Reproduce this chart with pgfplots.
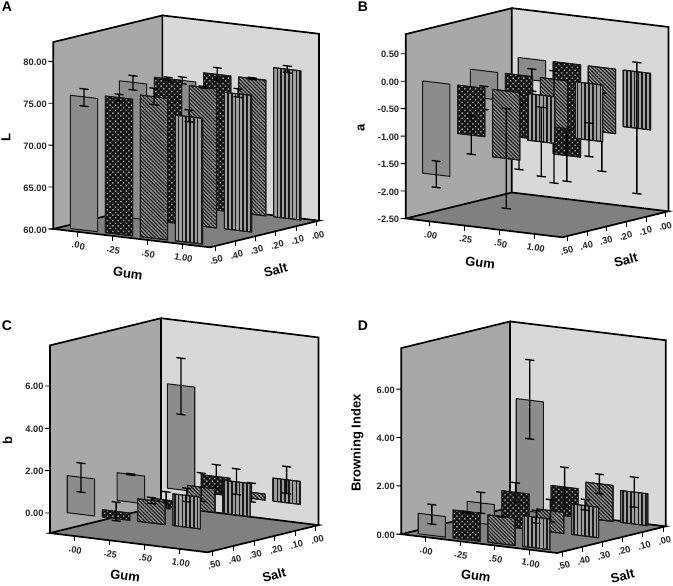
\documentclass[border=0pt]{standalone}
\usepackage{fontspec}
\setmainfont{Liberation Sans}
\usepackage{pgfplots}
\pgfplotsset{compat=1.18}
\usetikzlibrary{patterns.meta}
\definecolor{wallL}{HTML}{A8A8A8}
\definecolor{wallB}{HTML}{D8D8D8}
\definecolor{floorC}{HTML}{808080}
\definecolor{barG}{HTML}{8C8C8C}
\definecolor{barEdge}{HTML}{181818}
\tikzset{
  gbar/.style={draw=barEdge,line width=1.05pt,fill=barG},
  cbar/.style={draw=barEdge,line width=1.05pt,fill=black!92,postaction={pattern={Dots[radius=1.05pt,distance=3.8pt,angle=45]},pattern color=black!42}},
  dbar/.style={draw=barEdge,line width=1.05pt,fill=black!42,postaction={pattern={Lines[angle=-45,distance=2.6pt,line width=1.1pt]},pattern color=black!90}},
  vbar/.style={draw=barEdge,line width=1.05pt,fill=black!38,postaction={pattern={Lines[angle=90,distance=3.8pt,line width=1.5pt]},pattern color=black!90}},
  tickline/.style={black,line width=0.9pt,no marks},
}
% \Bar{gum position}{salt position}{base}{value}{low}{high}{style}
\newcommand\Bar[7]{%
  \pgfmathsetmacro\gl{#1-0.39}\pgfmathsetmacro\gr{#1+0.39}%
  \pgfmathsetmacro\cl{#1-0.13}\pgfmathsetmacro\cr{#1+0.13}%
  \edef\tmpa{\noexpand\addplot3[#7,no marks,line join=round] coordinates {(\gl,#2,#3)(\gr,#2,#3)(\gr,#2,#4)(\gl,#2,#4)(\gl,#2,#3)};}\tmpa
  \edef\tmpb{\noexpand\addplot3[black,line width=1.35pt,no marks,line join=miter] coordinates {(\cl,#2,#6)(\cr,#2,#6)(#1,#2,#6)(#1,#2,#5)(\cl,#2,#5)(\cr,#2,#5)};}\tmpb
}
\newcommand\Walls[2]{%
  \addplot3[draw=none,fill=wallL,no marks] coordinates {(-0.686,-0.25,#1)(-0.686,5.13,#1)(-0.686,5.13,#2)(-0.686,-0.25,#2)};
  \addplot3[draw=none,fill=wallB,no marks] coordinates {(-0.686,5.13,#1)(3.79,5.13,#1)(3.79,5.13,#2)(-0.686,5.13,#2)};
  \addplot3[draw=none,fill=floorC,no marks] coordinates {(-0.686,-0.25,#1)(3.79,-0.25,#1)(3.79,5.13,#1)(-0.686,5.13,#1)};
  \addplot3[black,line width=1.7pt,no marks,line join=miter] coordinates {(-0.686,5.13,#1)(-0.686,-0.25,#1)(3.79,-0.25,#1)(3.79,5.13,#1)(-0.686,5.13,#1)(-0.686,5.13,#2)(-0.686,-0.25,#2)(-0.686,-0.25,#1)};
  \addplot3[black,line width=1.7pt,no marks,line join=miter] coordinates {(-0.686,5.13,#2)(3.79,5.13,#2)(3.79,5.13,#1)};
}
% \Ticks{zmin}{tick length in z units}{z tick values}
\newcommand\Ticks[3]{%
  \pgfmathsetmacro\zb{#1-#2}%
  \pgfplotsforeachungrouped \g in {0,1,2,3}{%
    \edef\tmp{\noexpand\addplot3[tickline] coordinates {(\g,-0.25,#1)(\g,-0.25,\zb)};}\tmp}
  \pgfplotsforeachungrouped \s in {0,1,2,3,4,5}{%
    \edef\tmp{\noexpand\addplot3[tickline] coordinates {(3.79,\s,#1)(3.79,\s,\zb)};}\tmp}
  \pgfplotsforeachungrouped \v in {#3}{%
    \edef\tmp{\noexpand\addplot3[tickline] coordinates {(-0.686,-0.25,\v)(-0.7825,-0.33,\v)};}\tmp}
}
\pgfplotsset{panel/.style={
  clip=false, anchor=south west,
  xmin=-0.686,xmax=3.79,ymin=-0.25,ymax=5.13,
  axis line style={draw=none},
  xtick={0,1,2,3},xticklabels={.00,.25,.50,1.00},
  ytick={0,1,2,3,4,5},yticklabels={.50,.40,.30,.20,.10,.00},
  ztick pos=left,
  tick align=outside,major tick length=0pt,
  tick label style={font=\bfseries\fontsize{9.3}{10}\selectfont,text=black!85},
  x tick label style={rotate=-12,anchor=north,xshift=4pt,yshift=-6.5pt},
  y tick label style={rotate=14,anchor=north west,xshift=-12pt,yshift=-7pt},
  z tick label style={xshift=-3pt,/pgf/number format/fixed,/pgf/number format/fixed zerofill,/pgf/number format/precision=2,/pgf/number format/assume math mode=true},
  label style={font=\bfseries\fontsize{13}{14}\selectfont},
  xlabel=Gum,ylabel=Salt,
  x label style={at={(ticklabel cs:0.5)},anchor=north,rotate=-8,xshift=14pt,yshift=-5pt},
  y label style={at={(ticklabel cs:0.5)},anchor=north,rotate=15,xshift=-10pt,yshift=-7pt},
  z label style={at={(ticklabel cs:0.5)},anchor=south,rotate=0,yshift=6pt},
}}
\begin{document}
\begin{tikzpicture}[x=1pt,y=1pt]
\begin{axis}[panel,at={(53.3pt,338.7pt)},
  x={(35pt,-4.1pt)},y={(20.27pt,4.95pt)},z={(0pt,8.38pt)},
  zmin=60,zmax=82.3,ztick={60,65,70,75,80},zlabel=L]
\Walls{60}{82.3}
\Bar{0}{4.93}{60}{75.0}{74.6}{75.4}{gbar}
\Bar{1}{4.93}{60}{76.2}{75.45}{77.0}{cbar}
\Bar{2}{4.93}{60}{76.2}{76.1}{76.3}{dbar}
\Bar{3}{4.93}{60}{77.8}{77.4}{78.2}{vbar}
\Bar{0}{2.5}{60}{76.2}{75.3}{77.0}{gbar}
\Bar{1}{2.5}{60}{77.1}{76.9}{77.3}{cbar}
\Bar{2}{2.5}{60}{76.6}{76.5}{76.7}{dbar}
\Bar{3}{2.5}{60}{76.3}{75.9}{76.9}{vbar}
\Bar{0}{0.08}{60}{75.9}{74.8}{76.85}{gbar}
\Bar{1}{0.08}{60}{76.3}{75.9}{76.7}{cbar}
\Bar{2}{0.08}{60}{76.9}{75.95}{77.9}{dbar}
\Bar{3}{0.08}{60}{75.0}{74.4}{75.8}{vbar}
\Ticks{60}{0.6}{60,65,70,75,80}
\end{axis}
\begin{axis}[panel,at={(405.7pt,348.7pt)},
  x={(35pt,-4.2pt)},y={(19.73pt,4.83pt)},z={(0pt,54.9pt)},
  y tick label style={xshift=-2pt},
  zmin=-2.5,zmax=0.858,ztick={-2.5,-2,-1.5,-1,-0.5,0,0.5},zlabel=a]
\Walls{-2.5}{0.858}
\Bar{0}{4.93}{0}{-0.38}{-0.58}{-0.18}{gbar}
\Bar{1}{4.93}{0}{-1.68}{-2.15}{-1.2}{cbar}
\Bar{2}{4.93}{0}{-1.175}{-1.89}{-0.46}{dbar}
\Bar{3}{4.93}{0}{-1.03}{-2.22}{0.17}{vbar}
\Bar{0}{2.5}{0}{-0.5}{-0.70}{-0.28}{gbar}
\Bar{1}{2.5}{0}{-1.13}{-1.72}{-0.54}{cbar}
\Bar{2}{2.5}{0}{-0.87}{-1.89}{0.15}{dbar}
\Bar{3}{2.5}{0}{-1.03}{-1.33}{-0.72}{vbar}
\Bar{0}{0.08}{0}{-1.68}{-1.91}{-1.43}{gbar}
\Bar{1}{0.08}{0}{-0.88}{-1.23}{-0.53}{cbar}
\Bar{2}{0.08}{0}{-1.23}{-2.14}{-0.32}{dbar}
\Bar{3}{0.08}{0}{-0.85}{-1.48}{-0.22}{vbar}
\Ticks{-2.5}{0.091}{-2.5,-2,-1.5,-1,-0.5,0,0.5}
\end{axis}
\begin{axis}[panel,at={(50pt,33.7pt)},
  x={(35.2pt,-4.3pt)},y={(20.63pt,5.05pt)},z={(0pt,21.17pt)},
  x label style={yshift=2pt},
  zmin=-0.945,zmax=7.92,ztick={0,2,4,6},zlabel=b]
\Walls{-0.945}{7.92}
\Bar{0}{4.93}{0}{4.93}{3.56}{6.22}{gbar}
\Bar{1}{4.93}{0}{0.83}{0.27}{1.39}{cbar}
\Bar{2}{4.93}{0}{0.285}{-0.16}{0.73}{dbar}
\Bar{3}{4.93}{0}{1.085}{0.44}{1.71}{vbar}
\Bar{0}{2.5}{0}{1.31}{1.28}{1.34}{gbar}
\Bar{1}{2.5}{0}{0.30}{-0.09}{0.69}{cbar}
\Bar{2}{2.5}{0}{1.115}{0.45}{1.78}{dbar}
\Bar{3}{2.5}{0}{1.567}{0.97}{2.18}{vbar}
\Bar{0}{0.08}{0}{1.75}{1.05}{2.42}{gbar}
\Bar{1}{0.08}{0}{0.34}{-0.1}{0.78}{cbar}
\Bar{2}{0.08}{0}{1.06}{0.92}{1.2}{dbar}
\Bar{3}{0.08}{0}{1.5}{1.21}{1.84}{vbar}
\Ticks{-0.945}{0.236}{0,2,4,6}
\end{axis}
\begin{axis}[panel,at={(401.3pt,33pt)},
  x={(34.8pt,-4.2pt)},y={(20.2pt,4.95pt)},z={(0pt,24.17pt)},
  x label style={yshift=3pt},
  zmin=0,zmax=7.7,ztick={0,2,4,6},zlabel={Browning Index}]
\Walls{0}{7.7}
\Bar{0}{4.93}{0}{4.6}{3.0}{6.27}{gbar}
\Bar{1}{4.93}{0}{1.18}{0.35}{2.0}{cbar}
\Bar{2}{4.93}{0}{1.49}{1.08}{1.89}{dbar}
\Bar{3}{4.93}{0}{1.32}{0.70}{1.94}{vbar}
\Bar{0}{2.5}{0}{0.85}{0.43}{1.29}{gbar}
\Bar{1}{2.5}{0}{1.46}{1.06}{1.86}{cbar}
\Bar{2}{2.5}{0}{0.88}{0.425}{1.335}{dbar}
\Bar{3}{2.5}{0}{1.26}{1.08}{1.51}{vbar}
\Bar{0}{0.08}{0}{0.85}{0.47}{1.28}{gbar}
\Bar{1}{0.08}{0}{1.16}{1.1}{1.16}{cbar}
\Bar{2}{0.08}{0}{1.13}{1.1}{1.13}{dbar}
\Bar{3}{0.08}{0}{1.27}{1.03}{1.55}{vbar}
\Ticks{0}{0.207}{0,2,4,6}
\end{axis}
\node[font=\bfseries\fontsize{14}{15}\selectfont] at (7,579) {A};
\node[font=\bfseries\fontsize{14}{15}\selectfont] at (363,579) {B};
\node[font=\bfseries\fontsize{14}{15}\selectfont] at (7,260) {C};
\node[font=\bfseries\fontsize{14}{15}\selectfont] at (363,260) {D};
\pgfresetboundingbox
\path[use as bounding box] (0,0) rectangle (673,586);
\end{tikzpicture}
\end{document}
